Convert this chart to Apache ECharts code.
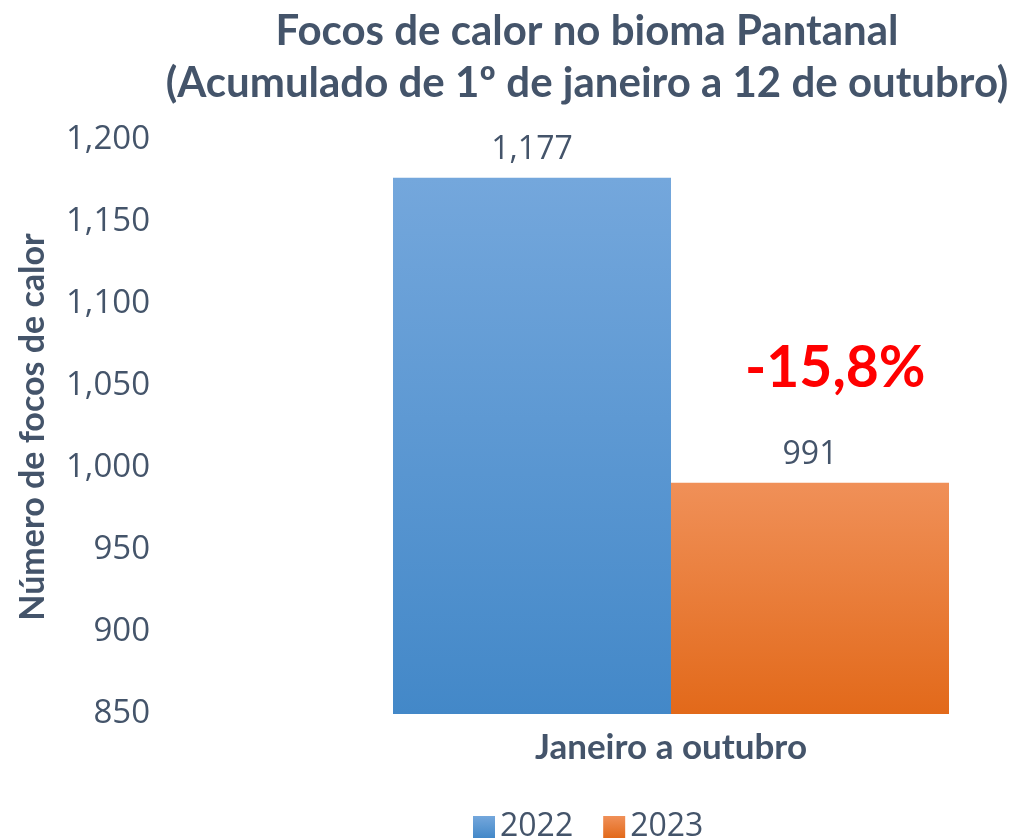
<!DOCTYPE html>
<html><head><meta charset="utf-8">
<script src="https://cdn.jsdelivr.net/npm/echarts@6/dist/echarts.min.js"></script>
<style>html,body{margin:0;padding:0;background:#fff}#c{width:1009px;height:840px}</style>
</head><body><div id="c"></div>
<script>
const categories = ['Janeiro a outubro'];
const seriesNames = ['2022', '2023'];
const values2022 = [1177];
const values2023 = [991];
const yTicks = [850, 900, 950, 1000, 1050, 1100, 1150, 1200];
const changeText = '-15,8%';

const slate = '#44546A';
const fmt = v => v.toLocaleString('en-US');
const chart = echarts.init(document.getElementById('c'));
function grad(top, bottom) {
  return new echarts.graphic.LinearGradient(0, 0, 0, 1, [{offset: 0, color: top}, {offset: 1, color: bottom}]);
}
chart.setOption({
  animation: false,
  title: {
    text: 'Focos de calor no bioma Pantanal\n(Acumulado de 1º de janeiro a 12 de outubro)',
    left: 582, top: 0, textAlign: 'center',
    textStyle: {fontFamily: 'Lato', fontWeight: 'bold', fontSize: 42, color: slate, lineHeight: 52}
  },
  legend: {
    top: 806, left: 468, itemWidth: 22, itemHeight: 22, itemGap: 30,
    icon: 'rect',
    textStyle: {fontFamily: 'Open Sans', fontSize: 32, color: slate},
    data: seriesNames
  },
  grid: {left: 393, right: 60, top: 140, bottom: 126},
  xAxis: {
    type: 'category', data: categories,
    axisLine: {show: false}, axisTick: {show: false},
    axisLabel: {margin: 16, fontFamily: 'Lato', fontWeight: 'bold', fontSize: 35, color: slate}
  },
  yAxis: {
    type: 'value', min: yTicks[0], max: yTicks[yTicks.length - 1], interval: 50,
    splitLine: {show: false}, axisLine: {show: false}, axisTick: {show: false},
    axisLabel: {margin: 243, fontFamily: 'Open Sans', fontSize: 33, color: slate, formatter: fmt},
    name: 'Número de focos de calor', nameLocation: 'middle', nameGap: 343, nameRotate: 90,
    nameTextStyle: {fontFamily: 'Lato', fontWeight: 'bold', fontSize: 34, color: slate}
  },
  series: [
    {
      name: seriesNames[0], type: 'bar', data: values2022, barGap: '0%', barCategoryGap: '0%',
      itemStyle: {color: grad('#74A7DC', '#4388C8')},
      label: {show: true, position: 'top', distance: 12, fontFamily: 'Open Sans', fontSize: 32, color: slate, formatter: p => fmt(p.value)}
    },
    {
      name: seriesNames[1], type: 'bar', data: values2023, barGap: '0%', barCategoryGap: '0%',
      itemStyle: {color: grad('#F09058', '#E2691A')},
      label: {show: true, position: 'top', distance: 12, fontFamily: 'Open Sans', fontSize: 32, color: slate, formatter: p => fmt(p.value)}
    }
  ],
  graphic: [{
    type: 'text', left: 745, top: 340,
    style: {text: changeText, fontFamily: 'Lato', fontWeight: 'bold', fontSize: 57, fill: '#FF0000'}
  }]
});
</script></body></html>
